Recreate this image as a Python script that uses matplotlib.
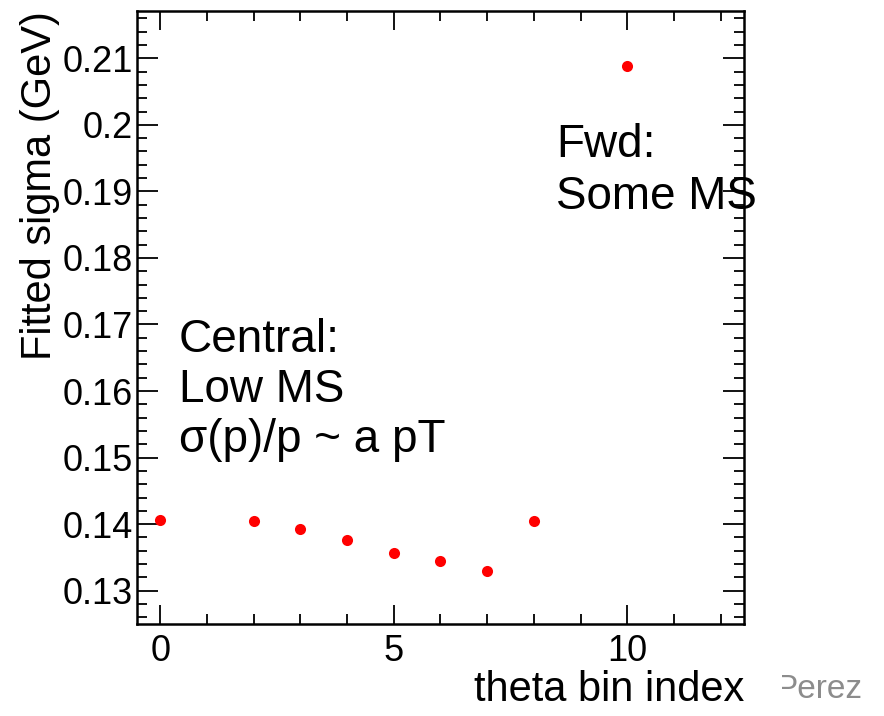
import numpy as np
import matplotlib
matplotlib.use("Agg")
import matplotlib.pyplot as plt
from matplotlib.patches import Rectangle
from matplotlib.ticker import MultipleLocator

plt.rcParams['font.family'] = ['Liberation Sans', 'DejaVu Sans']

# fitted resolution per theta bin
theta_bin = [0, 2, 3, 4, 5, 6, 7, 8, 10]
sigma = [0.1407, 0.1404, 0.1393, 0.1376, 0.1356, 0.1345, 0.1330, 0.1404, 0.2089]

x_range = (-0.5, 12.5)
y_range = (0.1250, 0.2171)

central_lines = ["Central:", "Low MS", "σ(p)/p ~ a pT"]
fwd_lines = ["Fwd:", "Some MS"]

fig = plt.figure(figsize=(8.84, 7.16), dpi=100)
ax = fig.add_axes([0.155, 0.1285, 0.6866, 0.8561])

ax.plot(theta_bin, sigma, 'o', color='red', markersize=8, markeredgewidth=0, clip_on=False)

ax.set_xlim(*x_range)
ax.set_ylim(*y_range)

# ROOT-like frame: ticks inside on all sides
ax.xaxis.set_major_locator(MultipleLocator(5))
ax.xaxis.set_minor_locator(MultipleLocator(1))
ax.yaxis.set_major_locator(MultipleLocator(0.01))
ax.yaxis.set_minor_locator(MultipleLocator(0.002))
ax.yaxis.set_major_formatter(plt.FuncFormatter(lambda v, p: f"{v:.2f}".rstrip('0')))
ax.tick_params(which='both', direction='in', top=True, right=True, width=1.3, labelsize=26)
ax.tick_params(axis='x', which='major', length=14, pad=7)
ax.tick_params(axis='y', which='major', length=15, pad=3)
ax.tick_params(which='minor', length=7)
for s in ax.spines.values():
    s.set_linewidth(1.8)

ax.set_xlabel("theta bin index", fontsize=30, loc='right', labelpad=1)
ax.set_ylabel("Fitted sigma (GeV)", fontsize=30, loc='top', labelpad=2)

for i, line in enumerate(central_lines):
    ax.text(0.39, 0.1658 - i * 0.0075, line, fontsize=33, va='baseline', ha='left')
for i, line in enumerate(fwd_lines):
    ax.text(8.48, 0.1951 - i * 0.0078, line, fontsize=33, va='baseline', ha='left')

# partially visible footer text at bottom right
t = fig.text(775 / 884, 1 - 698 / 716, "Perez", fontsize=24, color='#8c8c8c', va='baseline', ha='left')
clip = Rectangle((782 / 884, 0), 1, 1, transform=fig.transFigure, visible=False)
fig.add_artist(clip)
t.set_clip_path(clip)

fig.savefig("out.png", dpi=100)
